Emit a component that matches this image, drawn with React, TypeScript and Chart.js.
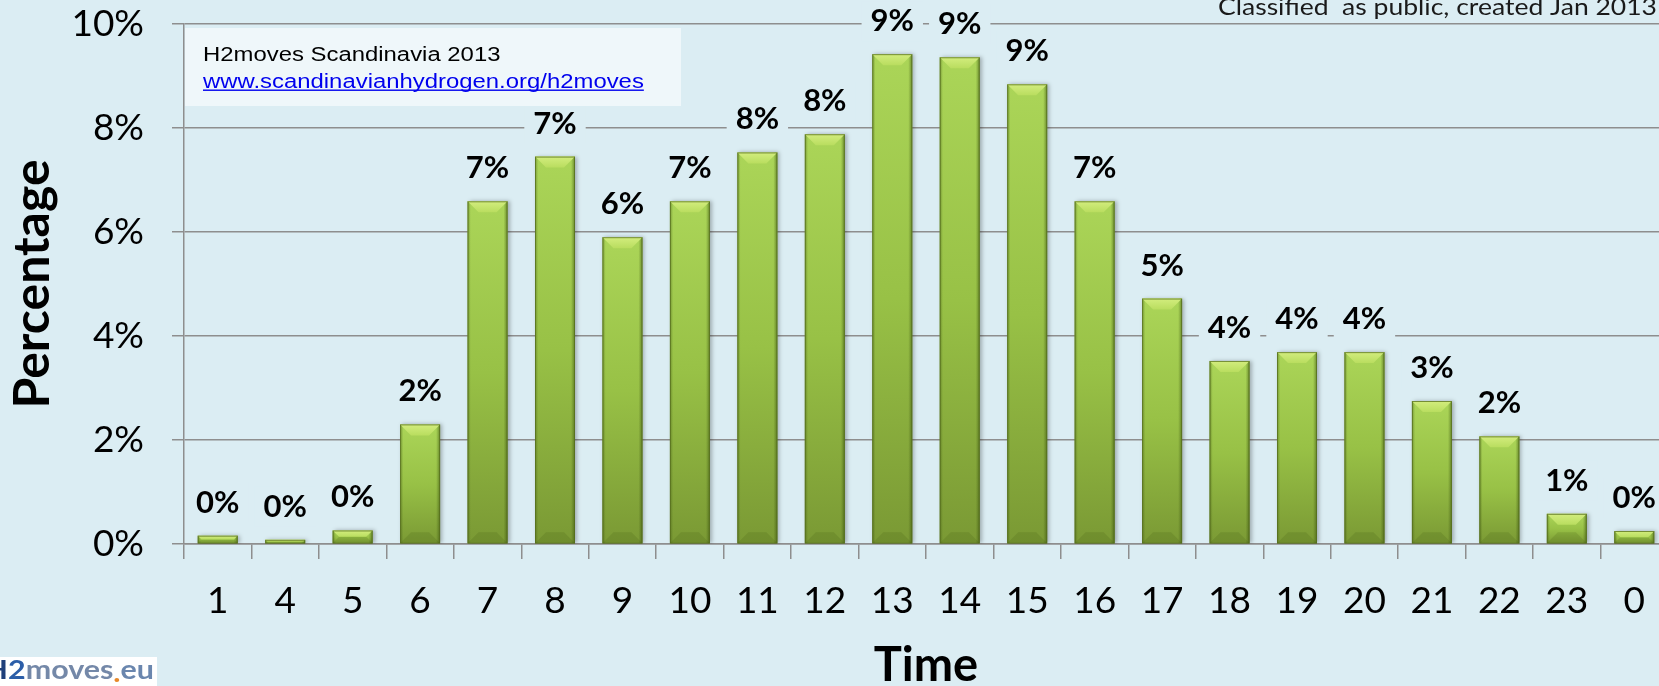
import React, { useEffect, useRef } from "react";
import { Chart, registerables } from "chart.js";

Chart.register(...registerables);

// Share of refuelling events per hour of day
const hours = ["1", "4", "5", "6", "7", "8", "9", "10", "11", "12", "13", "14", "15", "16", "17", "18", "19", "20", "21", "22", "23", "0"];
const sharePct = [0.16, 0.08, 0.26, 2.3, 6.59, 7.45, 5.9, 6.59, 7.53, 7.88, 9.42, 9.36, 8.84, 6.59, 4.72, 3.52, 3.69, 3.69, 2.75, 2.07, 0.58, 0.25];
const yTickValues = [0, 2, 4, 6, 8, 10];

const X_TITLE = "Time";
const Y_TITLE = "Percentage";
const SOURCE_TITLE = "H2moves Scandinavia 2013";
const SOURCE_URL = "www.scandinavianhydrogen.org/h2moves";
const CLASSIFICATION = "Classified  as public, created Jan 2013";

const BG = "#dbedf3";
const GRID = "#8e8e8e";
const FONT = "Lato, 'Noto Sans', sans-serif";

const barFill = (context: any) => {
  const chart = context.chart;
  const { ctx, chartArea, scales } = chart;
  if (!chartArea || context.raw == null) return "#98c146";
  const top = scales.y.getPixelForValue(context.raw);
  const base = scales.y.getPixelForValue(0);
  const g = ctx.createLinearGradient(0, top, 0, Math.max(base, top + 1));
  g.addColorStop(0, "#abd558");
  g.addColorStop(0.5, "#98c146");
  g.addColorStop(1, "#7a9934");
  return g;
};

const backgroundPlugin = {
  id: "pageBackground",
  beforeDraw(chart: any) {
    const { ctx, width, height } = chart;
    ctx.save();
    ctx.fillStyle = BG;
    ctx.fillRect(0, 0, width, height);
    ctx.restore();
  },
};

// Soft drop shadow behind the bars, then bevel highlights on top of them
const bevelPlugin = {
  id: "barBevel",
  beforeDatasetsDraw(chart: any) {
    const ctx = chart.ctx;
    ctx.save();
    ctx.shadowColor = "rgba(0,0,0,0.28)";
    ctx.shadowBlur = 4;
    ctx.shadowOffsetX = 2;
    ctx.shadowOffsetY = 0;
  },
  afterDatasetsDraw(chart: any) {
    const ctx = chart.ctx;
    ctx.restore();
    const meta = chart.getDatasetMeta(0);
    ctx.save();
    meta.data.forEach((el: any) => {
      const { x, y, width, base } = el.getProps(["x", "y", "width", "base"], true);
      const l = x - width / 2;
      const r = x + width / 2;
      const h = base - y;
      if (h <= 0) return;
      const d = Math.min(11, h / 2);

      // darker bottom facet
      ctx.fillStyle = "rgba(55,80,10,0.16)";
      ctx.beginPath();
      ctx.moveTo(l, base);
      ctx.lineTo(r, base);
      ctx.lineTo(r - d, base - d);
      ctx.lineTo(l + d, base - d);
      ctx.closePath();
      ctx.fill();

      // side facets
      const sg = ctx.createLinearGradient(l, 0, r, 0);
      sg.addColorStop(0, "rgba(60,85,15,0.45)");
      sg.addColorStop(0.08, "rgba(60,85,15,0.0)");
      sg.addColorStop(0.9, "rgba(60,85,15,0.0)");
      sg.addColorStop(1, "rgba(50,75,10,0.55)");
      ctx.fillStyle = sg;
      ctx.fillRect(l, y, r - l, h);

      // light top facet
      const cg = ctx.createLinearGradient(0, y, 0, y + d);
      cg.addColorStop(0, "#d3ed7e");
      cg.addColorStop(1, "#b9dd5f");
      ctx.fillStyle = cg;
      ctx.beginPath();
      ctx.moveTo(l, y);
      ctx.lineTo(r, y);
      ctx.lineTo(r - d, y + d);
      ctx.lineTo(l + d, y + d);
      ctx.closePath();
      ctx.fill();

      ctx.strokeStyle = "rgba(85,110,30,0.75)";
      ctx.lineWidth = 1;
      ctx.strokeRect(l + 0.5, y + 0.5, r - l - 1, h - 0.5);
    });
    ctx.restore();
  },
};

// Rounded percentage above every bar, on a patch of background colour
const valueLabelPlugin = {
  id: "valueLabels",
  afterDatasetsDraw(chart: any) {
    const ctx = chart.ctx;
    const meta = chart.getDatasetMeta(0);
    const values = chart.data.datasets[0].data as number[];
    ctx.save();
    ctx.font = `bold 31px ${FONT}`;
    ctx.textAlign = "center";
    ctx.textBaseline = "middle";
    meta.data.forEach((el: any, i: number) => {
      const { x, y } = el.getProps(["x", "y"], true);
      const text = `${Math.round(values[i])}%`;
      const cy = y - 33;
      const w = ctx.measureText(text).width;
      ctx.fillStyle = BG;
      ctx.fillRect(x - w / 2 - 9, cy - 20, w + 18, 40);
      ctx.fillStyle = "#000";
      ctx.fillText(text, x, cy);
    });
    ctx.restore();
  },
};

const notesPlugin = {
  id: "notes",
  afterDraw(chart: any) {
    const ctx = chart.ctx;
    ctx.save();

    // source box
    ctx.fillStyle = "#eff7fa";
    ctx.fillRect(185, 28, 496, 78);
    ctx.save();
    ctx.translate(203, 0);
    ctx.scale(1.225, 1);
    ctx.font = "19.5px 'Liberation Sans', Arial, sans-serif";
    ctx.textAlign = "left";
    ctx.textBaseline = "alphabetic";
    ctx.fillStyle = "#000";
    ctx.fillText(SOURCE_TITLE, 0, 61);
    ctx.fillStyle = "#0000ee";
    ctx.fillText(SOURCE_URL, 0, 88);
    const uw = ctx.measureText(SOURCE_URL).width;
    ctx.fillRect(0, 89.5, uw, 1.4);
    ctx.restore();

    // classification note, top right
    ctx.save();
    ctx.font = `23px ${FONT}`;
    const cw = ctx.measureText(CLASSIFICATION).width;
    ctx.translate(1657, 15);
    ctx.scale(439 / cw, 1);
    ctx.textAlign = "right";
    ctx.textBaseline = "alphabetic";
    ctx.fillStyle = "#1a1a1a";
    ctx.fillText(CLASSIFICATION, 0, 0);
    ctx.restore();

    // logo, bottom left
    ctx.fillStyle = "#ffffff";
    ctx.fillRect(0, 657, 157, 29);
    ctx.save();
    ctx.font = `bold 27px ${FONT}`;
    ctx.textAlign = "left";
    ctx.textBaseline = "alphabetic";
    const parts: [string, string][] = [
      ["2", "#2c5ea8"],
      ["moves", "#7488a8"],
      [".", "#e8892a"],
      ["eu", "#6a86ae"],
    ];
    let total = 0;
    parts.forEach(([t]) => (total += ctx.measureText(t).width));
    const sx = 146 / total;
    const hw = ctx.measureText("H").width * sx;
    ctx.fillStyle = "#1f3f7a";
    ctx.save();
    ctx.translate(8 - hw, 679);
    ctx.scale(sx, 1);
    ctx.fillText("H", 0, 0);
    ctx.restore();
    let px = 8;
    parts.forEach(([t, c]) => {
      ctx.save();
      ctx.translate(px, t === "." ? 682 : 679);
      ctx.scale(sx, 1);
      ctx.fillStyle = c;
      ctx.fillText(t, 0, 0);
      ctx.restore();
      px += ctx.measureText(t).width * sx;
    });
    ctx.restore();

    ctx.restore();
  },
};

export default function App() {
  const canvasRef = useRef<HTMLCanvasElement | null>(null);

  useEffect(() => {
    let chart: Chart | null = null;
    let cancelled = false;
    document.body.style.margin = "0";
    document.body.style.background = BG;

    const fontsReady = Promise.all([
      document.fonts.load(`34px Lato`),
      document.fonts.load(`bold 31px Lato`),
      document.fonts.load(`19.5px 'Liberation Sans'`),
    ]).catch(() => undefined);

    fontsReady.then(() => {
      if (cancelled || !canvasRef.current) return;
      chart = new Chart(canvasRef.current, {
        type: "bar",
        data: {
          labels: hours,
          datasets: [
            {
              data: sharePct,
              backgroundColor: barFill as any,
              borderWidth: 0,
              barPercentage: 0.593,
              categoryPercentage: 1,
            },
          ],
        },
        options: {
          animation: false,
          responsive: false,
          devicePixelRatio: 1,
          layout: { padding: { top: 24, right: 12, left: 0, bottom: 0 } },
          plugins: {
            legend: { display: false },
            tooltip: { enabled: false },
          },
          scales: {
            x: {
              offset: true,
              grid: {
                offset: true,
                drawOnChartArea: false,
                drawTicks: true,
                tickLength: 15,
                color: GRID,
                lineWidth: 1.5,
              },
              border: { color: GRID, width: 1.5 },
              ticks: {
                font: { family: FONT, size: 37 },
                color: "#000",
                padding: 20,
                maxRotation: 0,
                autoSkip: false,
              },
              title: {
                display: true,
                text: X_TITLE,
                color: "#000",
                font: { family: FONT, size: 47, weight: "bold", lineHeight: 0.85 },
                padding: 0,
              },
              afterFit: (s: any) => {
                s.height = 142;
                s.paddingLeft = 0;
                s.paddingRight = 0;
              },
            },
            y: {
              min: 0,
              max: 10,
              afterBuildTicks: (s: any) => {
                s.ticks = yTickValues.map((v) => ({ value: v }));
              },
              ticks: {
                callback: (v: any) => `${v}%`,
                font: { family: FONT, size: 37 },
                color: "#000",
                padding: 28,
              },
              grid: { color: GRID, lineWidth: 1.5, tickLength: 12 },
              border: { color: GRID, width: 1.5 },
              title: {
                display: true,
                text: Y_TITLE,
                color: "#000",
                font: { family: FONT, size: 50, weight: "bold", lineHeight: 1.2 },
                padding: { top: 3, bottom: 0 },
              },
              afterFit: (s: any) => {
                s.width = 184;
                s.paddingTop = 0;
                s.paddingBottom = 0;
              },
            },
          },
        },
        plugins: [backgroundPlugin, bevelPlugin, valueLabelPlugin, notesPlugin],
      });
    });

    return () => {
      cancelled = true;
      if (chart) chart.destroy();
    };
  }, []);

  return (
    <div
      style={{
        position: "fixed",
        left: 0,
        top: 0,
        width: 1659,
        height: 686,
        overflow: "hidden",
        background: BG,
      }}
    >
      <canvas
        ref={canvasRef}
        width={1680}
        height={686}
        style={{ display: "block", width: 1680, height: 686 }}
      />
    </div>
  );
}
